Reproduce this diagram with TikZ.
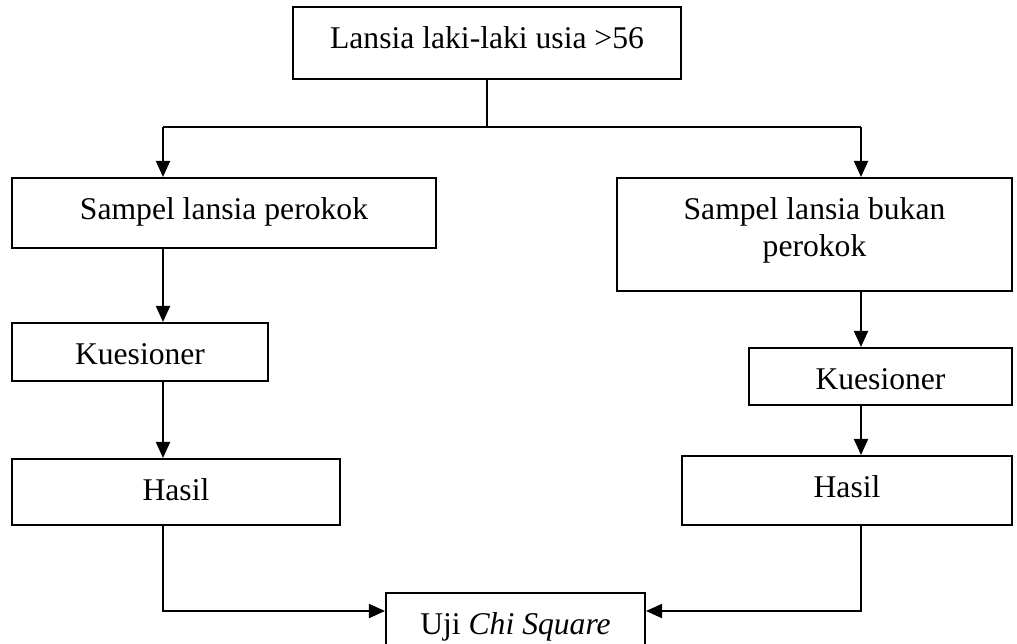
\documentclass[tikz,border=0pt]{standalone}
\usepackage{fontspec}
\setmainfont{Liberation Serif}
\usetikzlibrary{arrows.meta,positioning}

\begin{document}
\begin{tikzpicture}[x=0.02cm, y=-0.02cm, line width=1.1pt,
  box/.style={draw, line width=1.2pt, inner sep=0pt, align=center,
    text height=0.82cm, font=\fontsize{18}{21}\selectfont},
  arr/.style={-{Triangle[length=0.32cm,width=0.28cm]}}]
\clip (0,0) rectangle (1017,643);

% Boxes (text depth gives the box height)
\node[box, line width=1.5pt, minimum width=7.76cm, text depth=0.62cm] (lansia) at (487,43) {Lansia laki-laki usia >56};
\node[box, minimum width=8.48cm, text depth=0.58cm] (perokok) at (224,213) {Sampel lansia perokok};
\node[box, minimum width=7.9cm, text height=1.56cm, text depth=0.7cm] (bukan) at (814.5,234.5) {Sampel lansia bukan\\perokok};
\node[box, minimum width=5.12cm, text depth=0.34cm] (kuesA) at (140,352) {Kuesioner};
\node[box, minimum width=5.26cm, text depth=0.32cm] (kuesB) at (880.5,376.5) {Kuesioner};
\node[box, minimum width=6.56cm, text depth=0.5cm] (hasilA) at (176,492) {Hasil};
\node[box, minimum width=6.6cm, text depth=0.56cm] (hasilB) at (847,490.5) {Hasil};
\node[box, minimum width=5.18cm, text depth=0.52cm] (uji) at (515.5,626.5) {Uji \textit{Chi Square}};

% Branch points
\coordinate (split) at (487,127);
\coordinate (jL) at (163,127);
\coordinate (jR) at (861,127);
\coordinate (join) at (515,611);

% Top split
\draw (lansia.south) -- (split);
\draw (jL) -- (jR);
\draw[arr] (jL) -- (jL |- perokok.north);
\draw[arr] (jR) -- (jR |- bukan.north);

% Left column
\draw[arr] (perokok.south -| jL) -- (kuesA.north -| jL);
\draw[arr] (kuesA.south -| jL) -- (hasilA.north -| jL);

% Right column
\draw[arr] (bukan.south -| jR) -- (kuesB.north -| jR);
\draw[arr] (kuesB.south -| jR) -- (hasilB.north -| jR);

% Into the test
\draw[arr] (hasilA.south -| jL) |- (join -| uji.west);
\draw[arr] (hasilB.south -| jR) |- (join -| uji.east);
\end{tikzpicture}
\end{document}
